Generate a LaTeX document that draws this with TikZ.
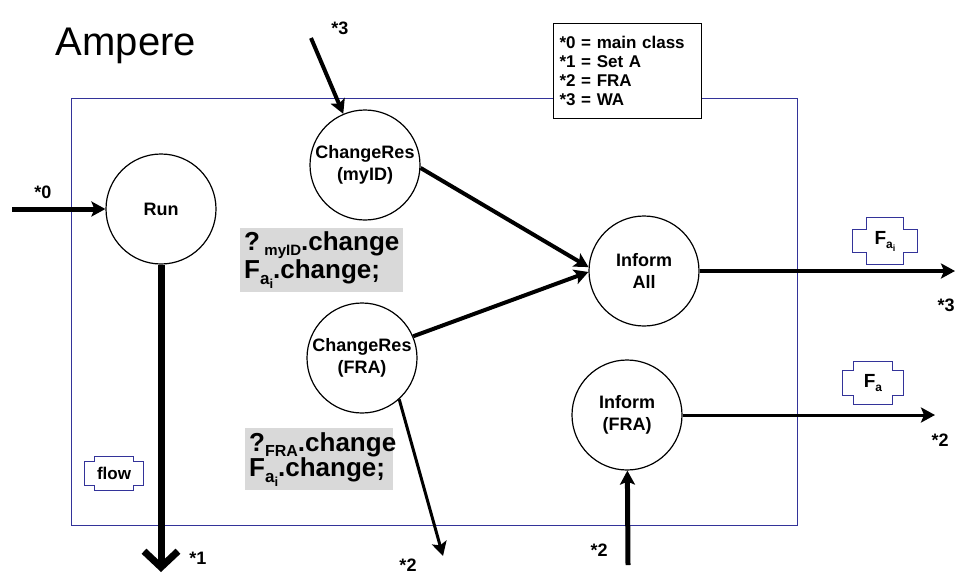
\documentclass[tikz,border=0pt]{standalone}
\usepackage{fontspec}
\setmainfont{Liberation Sans}
\usetikzlibrary{arrows.meta, calc, positioning}
\definecolor{ampBlue}{HTML}{333399}
\definecolor{ampGrey}{HTML}{D9D9D9}
\tikzset{
  frame/.style     = {draw=ampBlue, line width=1pt},
  proc/.style      = {circle, draw=black, line width=1.2pt, fill=white,
                      minimum size=110pt, inner sep=0pt, align=center,
                      font=\bfseries\fontsize{18}{22}\selectfont},
  flowarrow/.style = {-{Stealth[length=14pt, width=15pt, inset=3pt]}, line width=#1},
  star/.style      = {font=\bfseries\fontsize{18}{18}\selectfont},
  legendbox/.style = {draw=black, line width=1pt, fill=white, align=left,
                      text width=136pt, inner xsep=6pt, minimum height=95pt,
                      font=\bfseries\fontsize{17}{19}\selectfont},
  note/.style      = {fill=ampGrey, align=left, minimum height=62pt, inner xsep=4pt,
                      font=\bfseries\fontsize{26}{25}\selectfont},
  token/.style     = {inner sep=0pt, font=\bfseries\fontsize{19}{19}\selectfont},
  tokenline/.style = {draw=ampBlue, line width=1.2pt},
}
% lowered smaller text: #1 drop, #2 size, #3 text
\newcommand{\low}[3]{\raisebox{-#1}{\fontsize{#2}{#2}\selectfont #3}}
% cross shaped outline round a token node: #1 node, #2 arm inset x, #3 arm inset y
\newcommand{\tokenframe}[3]{%
  \draw[tokenline] ($(#1.north west)+(#2,0pt)$) -- ($(#1.north east)+(-#2,0pt)$)
    -- ($(#1.north east)+(-#2,-#3)$) -- ($(#1.north east)+(0pt,-#3)$)
    -- ($(#1.south east)+(0pt,#3)$) -- ($(#1.south east)+(-#2,#3)$)
    -- ($(#1.south east)+(-#2,0pt)$) -- ($(#1.south west)+(#2,0pt)$)
    -- ($(#1.south west)+(#2,#3)$) -- ($(#1.south west)+(0pt,#3)$)
    -- ($(#1.north west)+(0pt,-#3)$) -- ($(#1.north west)+(#2,-#3)$) -- cycle;}

\begin{document}
\begin{tikzpicture}[x=1pt, y=-1pt]
  \useasboundingbox (0,0) rectangle (960,574);

  % class frame and title
  \draw[frame] (71,98) rectangle (797,525);
  \node (title) at (126,46) {\fontsize{40}{40}\selectfont Ampere};
  \node[legendbox, anchor=north west] (legend) at (553,23)
    {*0 = main class\\{}*1 = Set A\\{}*2 = FRA\\{}*3 = WA};

  % processes
  \node[proc] (run)    at (161,209) {Run};
  \node[proc] (crmy)   at (365,165) {ChangeRes\\(myID)};
  \node[proc] (crfra)  at (362,358) {ChangeRes\\(FRA)};
  \node[proc] (infall) at (644,271) {Inform\\All};
  \node[proc] (inffra) at (627,415) {Inform\\(FRA)};

  % notes
  \node[note, anchor=north west, text width=155pt] (notemy) at (240,228)
    {?\,\low{5pt}{15}{myID}.change\\F\low{6pt}{17}{a\low{4pt}{13}{i}}.change;};
  \node[note, anchor=north west, text width=140pt] (notefra) at (245,428)
    {?\low{5pt}{16}{FRA}.change\\F\low{6pt}{17}{a\low{4pt}{13}{i}}.change;};

  % tokens
  \node[token, minimum width=64pt, minimum height=46pt] (tokfai) at (885,241)
    {F\low{4pt}{12}{a\low{3pt}{9}{i}}};
  \tokenframe{tokfai}{14pt}{12pt}
  \node[token, minimum width=60pt, minimum height=42pt] (tokfa) at (873,383)
    {F\low{4pt}{12}{a}};
  \tokenframe{tokfa}{11pt}{9pt}
  \node[token, font=\bfseries\fontsize{17}{17}\selectfont,
        minimum width=58pt, minimum height=33pt] (tokflow) at (114,473.5) {flow};
  \tokenframe{tokflow}{10pt}{5pt}

  % free ends
  \coordinate (in0)  at (12,209);
  \coordinate (in3)  at (311,38);
  \coordinate (out1) at (161,572);
  \coordinate (out2) at (443,556);
  \coordinate (in2)  at (628,565);
  \coordinate (out3) at (955,271);
  \coordinate (out2r) at (935,415);

  % connectors
  \draw[flowarrow=5pt] (in0) -- (run);
  \draw[line width=7pt, -{Straight Barb[length=16pt, width=34pt]}] (run) -- (out1);
  \draw[flowarrow=4pt] (in3) -- (crmy);
  \draw[flowarrow=4pt] (crmy.-3) -- (infall.176);
  \draw[flowarrow=4pt] (crfra.23) -- (infall.181);
  \draw[flowarrow=3pt] (crfra.-48) -- (out2);
  \draw[flowarrow=4pt] (infall) -- (out3);
  \draw[flowarrow=3pt] (inffra) -- (out2r);
  \draw[flowarrow=5pt] (in2) -- (inffra);

  % connector labels
  \node[star] (s0)  at (43,192)  {*0};
  \node[star] (s3)  at (340,28)  {*3};
  \node[star] (s1)  at (198,558) {*1};
  \node[star] (s2a) at (408,565) {*2};
  \node[star] (s2b) at (599,550) {*2};
  \node[star] (s3r) at (946,305) {*3};
  \node[star] (s2r) at (940,440) {*2};
\end{tikzpicture}
\end{document}
